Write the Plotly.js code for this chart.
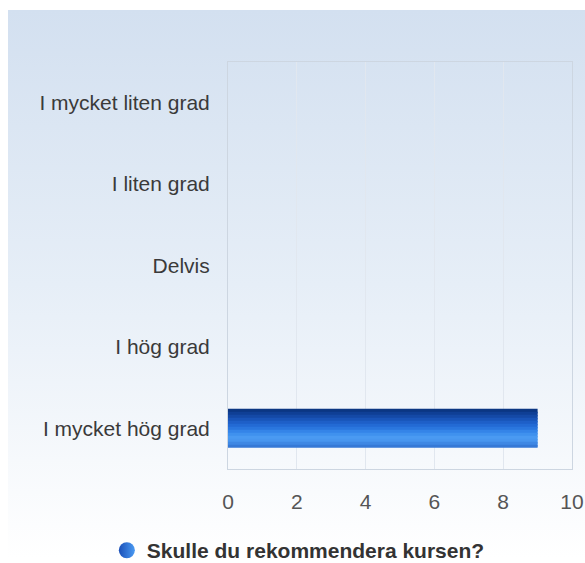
<!DOCTYPE html>
<html>
<head>
<meta charset="utf-8">
<script src="https://cdn.plot.ly/plotly-3.0.1.min.js"></script>
<style>
html,body{margin:0;padding:0;background:#fff;}
#wrap{position:relative;width:585px;height:563px;overflow:hidden;}
#bg{position:absolute;left:8px;top:10px;width:577px;height:548px;background:linear-gradient(to bottom,#d3e0f0 0%,#e6eef7 50%,#ffffff 100%);}
#chart{position:absolute;left:0;top:0;width:585px;height:563px;}
</style>
</head>
<body>
<div id="wrap"><div id="bg"></div><div id="chart"></div></div>
<script>
const categories = ["I mycket liten grad", "I liten grad", "Delvis", "I hög grad", "I mycket hög grad"];
const values = [0, 0, 0, 0, 9];
const seriesName = "Skulle du rekommendera kursen?";
const xTicks = [0, 2, 4, 6, 8, 10];

// gradient strips (top to bottom) to imitate shaded bar
const stripColors = ["#0b3682","#0f3f95","#1449a6","#1954b8","#1e5fc8","#236ad4","#2a76de","#3484e8","#3f91ee","#4a9af2","#4896ef","#3f88e4","#3679d6"];
const totalWidth = 0.48;
const sw = totalWidth / stripColors.length;
const traces = stripColors.map((c, i) => ({
  type: "bar",
  orientation: "h",
  x: values,
  y: categories,
  width: i === stripColors.length - 1 ? sw : sw * 1.6,
  offset: -totalWidth / 2 + i * sw,
  marker: {color: c, line: {width: 0}},
  showlegend: false,
  hoverinfo: "skip"
}));
traces.push({
  type: "scatter",
  mode: "markers",
  x: [null],
  y: [null],
  name: seriesName,
  showlegend: true,
  marker: {symbol: "circle", size: 21, color: "#1a4fb8", gradient: {type: "horizontal", color: "#4a9af2"}, line: {width: 0}}
});

const layout = {
  width: 585,
  height: 563,
  margin: {l: 228, r: 13, t: 62, b: 94},
  paper_bgcolor: "rgba(0,0,0,0)",
  plot_bgcolor: "rgba(0,0,0,0)",
  barmode: "overlay",
  font: {family: "Liberation Sans, Arial, sans-serif", size: 21, color: "#3a3a3a"},
  xaxis: {
    range: [0, 10],
    tickvals: xTicks,
    ticktext: xTicks.map(String),
    showgrid: true,
    gridcolor: "#e1e7ef",
    gridwidth: 1,
    zeroline: false,
    showline: true,
    mirror: true,
    linecolor: "#cdd6e1",
    linewidth: 1,
    ticks: "outside",
    ticklen: 14,
    tickcolor: "rgba(0,0,0,0)",
    tickfont: {size: 21, color: "#555"},
    fixedrange: true
  },
  yaxis: {
    autorange: "reversed",
    showgrid: false,
    zeroline: false,
    showline: true,
    mirror: true,
    linecolor: "#cdd6e1",
    ticks: "outside",
    ticklen: 13,
    tickcolor: "rgba(0,0,0,0)",
    tickfont: {size: 21, color: "#3a3a3a"},
    fixedrange: true
  },
  showlegend: true,
  legend: {
    orientation: "h",
    xref: "container",
    yref: "container",
    x: 0.51,
    xanchor: "center",
    y: 0.022,
    yanchor: "middle",
    font: {size: 21, color: "#333", family: "Liberation Sans, Arial, sans-serif", weight: "bold"},
    bgcolor: "rgba(0,0,0,0)",
    itemsizing: "trace"
  }
};
Plotly.newPlot("chart", traces, layout, {staticPlot: true, displayModeBar: false});
</script>
</body>
</html>
